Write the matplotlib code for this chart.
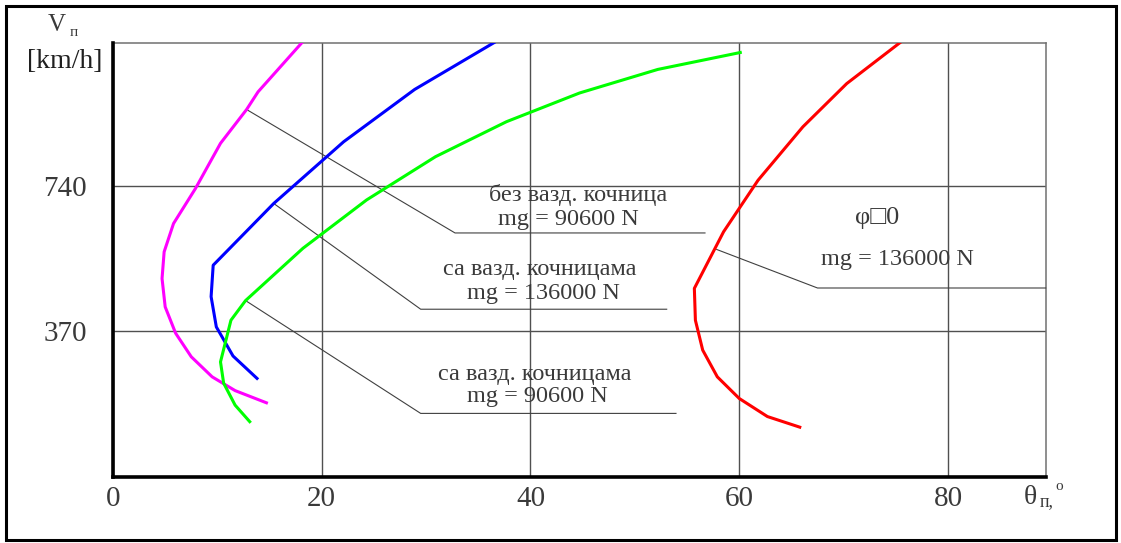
import numpy as np
import matplotlib
matplotlib.use("Agg")
import matplotlib.pyplot as plt
from matplotlib.patches import Rectangle

# theta (deg) vs V (km/h)
mag_theta = [18.1, 13.9, 12.8, 10.3, 7.9, 5.8, 4.9, 4.7, 5.0, 6.0, 7.5, 9.5, 11.7, 14.7]
mag_v = [1104, 979, 934, 848, 733, 644, 572, 504, 432, 365, 305, 254, 219, 188]

blue_theta = [36.5, 28.9, 22.1, 15.4, 9.6, 9.4, 9.9, 11.5, 13.8]
blue_v = [1104, 985, 852, 695, 538, 458, 381, 307, 250]

green_theta = [60.1, 52.2, 44.7, 37.7, 30.9, 24.3, 18.2, 12.7, 11.3, 10.3, 10.6, 11.7, 13.1]
green_v = [1079, 1036, 976, 903, 814, 704, 581, 448, 398, 292, 238, 182, 140]

red_theta = [75.4, 70.3, 66.1, 61.8, 58.5, 55.7, 55.8, 56.5, 57.9, 60.0, 62.7, 65.8]
red_v = [1104, 1000, 890, 754, 623, 479, 398, 322, 254, 199, 153, 126]

x_ticks = [0, 20, 40, 60, 80]
y_ticks = [370, 740]

SERIF = ["Liberation Serif", "DejaVu Serif"]
TXT = "#3a3a3a"


def leader(ax, start, knee, end_x):
    ax.plot([start[0], knee[0], end_x], [start[1], knee[1], knee[1]],
            color="#404040", lw=0.8, clip_on=False, zorder=3)


def label(ax, x, y, s, size=17.5):
    ax.text(x, y, s, ha="center", va="center", fontsize=size,
            family=SERIF + ["DejaVu Sans"], color=TXT, zorder=4)


def main():
    fig = plt.figure(figsize=(11.21, 5.43), dpi=100)
    fig.patches.append(Rectangle((6 / 1121, 3 / 543), 1110 / 1121, 534 / 543,
                                 transform=fig.transFigure, fill=False,
                                 edgecolor="black", lw=2.2))
    ax = fig.add_axes([0.1008, 0.1221, 0.8320, 0.7993])

    ax.plot(mag_theta, mag_v, color="#ff00ff", lw=2.2, zorder=5)
    ax.plot(blue_theta, blue_v, color="#0000ff", lw=2.2, zorder=5)
    ax.plot(green_theta, green_v, color="#00ff00", lw=2.2, zorder=5)
    ax.plot(red_theta, red_v, color="#ff0000", lw=2.2, zorder=5)

    ax.set_xlim(0, 89.36)
    ax.set_ylim(0, 1104)
    ax.set_xticks(x_ticks)
    ax.set_yticks(y_ticks)
    ax.set_xticklabels([str(t) for t in x_ticks], family=SERIF, fontsize=21, color=TXT)
    ax.set_yticklabels([str(t) for t in y_ticks], family=SERIF, fontsize=21, color=TXT)
    ax.tick_params(length=0)
    ax.tick_params(axis="x", pad=7)
    ax.tick_params(axis="y", pad=19)
    ax.grid(True, color="#505050", lw=1.0)

    for s in ["top", "right"]:
        ax.spines[s].set_color("#707070")
        ax.spines[s].set_linewidth(1.1)
    for s in ["left", "bottom"]:
        ax.spines[s].set_color("black")
        ax.spines[s].set_linewidth(2.6)
        ax.spines[s].set_zorder(6)

    # leader lines and their captions
    leader(ax, (mag_theta[2], mag_v[2]), (32.77, 620), 56.72)
    label(ax, 44.55, 716, "без вазд. кочница")
    label(ax, 43.6, 655, "mg = 90600 N")

    leader(ax, (blue_theta[3], blue_v[3]), (29.48, 426), 53.05)
    label(ax, 40.9, 528, "са вазд. кочницама")
    label(ax, 41.2, 467, "mg = 136000 N")

    leader(ax, (green_theta[7], green_v[7]), (29.48, 161), 53.94)
    label(ax, 40.4, 259, "са вазд. кочницама")
    label(ax, 40.7, 203, "mg = 90600 N")

    leader(ax, (57.84, 578), (67.5, 480), 89.36)
    label(ax, 73.25, 658, "φ\u25a10", size=19)
    label(ax, 75.16, 553, "mg = 136000 N")

    # axis titles
    fig.text(57 / 1121, 1 - 25 / 543, "V", ha="center", va="center",
             family=SERIF, fontsize=18, color=TXT)
    fig.text(74 / 1121, 1 - 33 / 543, "п", ha="center", va="center",
             family=SERIF, fontsize=11, color=TXT)
    fig.text(65 / 1121, 1 - 62 / 543, "[km/h]", ha="center", va="center",
             family=SERIF, fontsize=20, color="#202020")

    fig.text(1030 / 1121, 1 - 497 / 543, "θ", ha="center", va="center",
             family=SERIF, fontsize=20, color=TXT)
    fig.text(1047 / 1121, 1 - 502 / 543, "п,", ha="center", va="center",
             family=SERIF, fontsize=13, color=TXT)
    fig.text(1059 / 1121, 1 - 486 / 543, "o", ha="center", va="center",
             family=SERIF, fontsize=11, color=TXT)

    fig.savefig("out.png", dpi=100)


if __name__ == '__main__':
    main()
